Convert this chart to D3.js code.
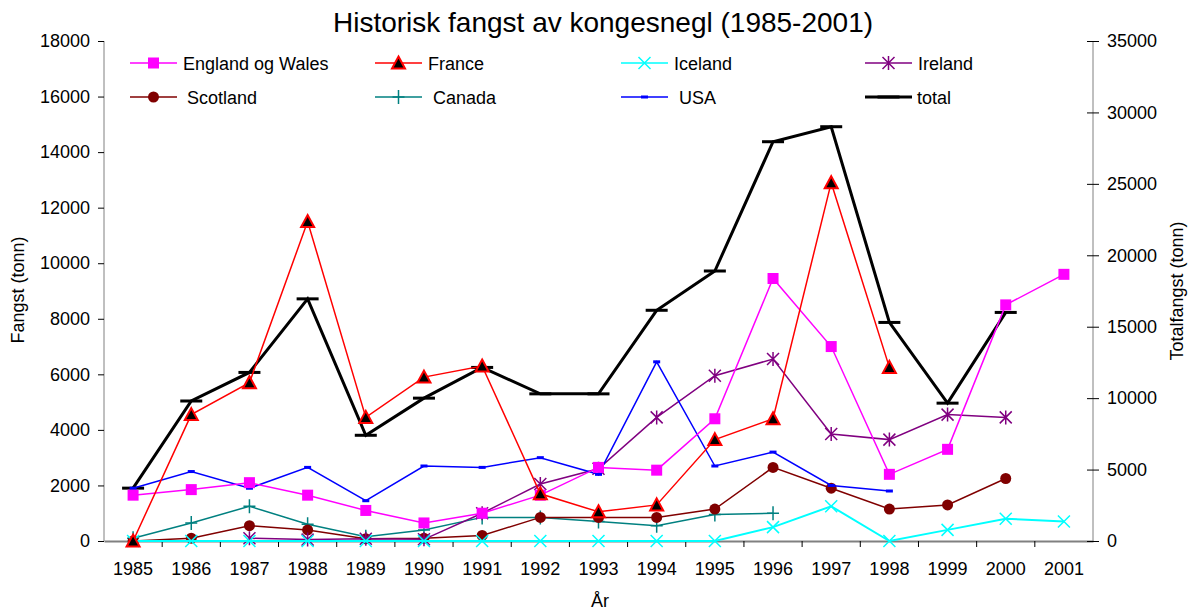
<!DOCTYPE html>
<html><head><meta charset="utf-8">
<script src="https://cdn.jsdelivr.net/npm/d3@7"></script>
<style>body{margin:0;background:#fff}svg{font-family:"Liberation Sans",Arial,sans-serif}</style>
</head><body><svg id="c" width="1194" height="612"></svg>
<script>
const years = ["1985","1986","1987","1988","1989","1990","1991","1992","1993","1994","1995","1996","1997","1998","1999","2000","2001"];
const englandWales = [1650,1850,2100,1650,1100,650,1000,1650,2650,2550,4400,9450,7000,2400,3300,8500,9600];
const france = [0,4550,5700,11500,4450,5900,6300,1700,1050,1300,3650,4400,12900,6250,null,null,null];
const iceland = [0,0,0,0,0,0,0,0,0,0,0,500,1250,0,400,800,700];
const ireland = [null,null,100,50,80,60,1000,2050,2600,4450,5950,6550,3850,3650,4550,4450,null];
const scotland = [0,100,550,400,80,100,200,850,850,850,1150,2650,1900,1150,1300,2250,null];
const canada = [100,650,1250,600,150,400,850,850,700,550,950,1000,null,null,null,null,null];
const usa = [1900,2500,1900,2650,1450,2700,2650,3000,2400,6450,2700,3200,2000,1800,null,null,null];
const total = [3700,9800,11800,16950,7400,10000,12150,10300,10300,16150,18900,27950,29000,15300,9650,16000,null];
const leftTicks = [0,2000,4000,6000,8000,10000,12000,14000,16000,18000];
const rightTicks = [0,5000,10000,15000,20000,25000,30000,35000];

const FS = 18;
const svg = d3.select("#c");
const L=104, R=1093, T=41, B=541;
const x = d3.scaleBand().domain(years).range([L,R]).padding(0);
const xc = d => x(d)+x.bandwidth()/2;
const yL = d3.scaleLinear().domain([0,18000]).range([B,T]);
const yR = d3.scaleLinear().domain([0,35000]).range([B,T]);

// axes
const gx = svg.append("g").attr("transform",`translate(0,${B})`)
  .call(d3.axisBottom(x).tickSize(0).tickPadding(21));
gx.select(".domain").attr("stroke","#808080").attr("stroke-width",2);
gx.selectAll("text").attr("font-size",FS).attr("fill","#000").attr("font-family","Liberation Sans, Arial");
gx.selectAll(".bt").data(years.slice(1)).enter().append("line")
  .attr("x1",d=>x(d)).attr("x2",d=>x(d)).attr("y1",0).attr("y2",6).attr("stroke","#000");

const gl = svg.append("g").attr("transform",`translate(${L},0)`)
  .call(d3.axisLeft(yL).tickValues(leftTicks).tickSize(6).tickPadding(8).tickFormat(d3.format("d")));
gl.select(".domain").attr("stroke","#808080").attr("d",`M0,${T}V${B}`);
gl.selectAll("line").attr("stroke","#000");
gl.selectAll("text").attr("font-size",FS).attr("fill","#000").attr("font-family","Liberation Sans, Arial");

const gr = svg.append("g").attr("transform",`translate(${R},0)`)
  .call(d3.axisRight(yR).tickValues(rightTicks).tickSize(6).tickPadding(8).tickFormat(d3.format("d")));
gr.select(".domain").attr("stroke","#808080").attr("d",`M0,${T}V${B}`);
gr.selectAll(".tick line").attr("x1",-6).attr("stroke","#000");
gr.selectAll("text").attr("font-size",FS).attr("fill","#000").attr("font-family","Liberation Sans, Arial");

// titles
svg.append("text").attr("x",603).attr("y",32).attr("text-anchor","middle").attr("font-size",28).text("Historisk fangst av kongesnegl (1985-2001)");
svg.append("text").attr("transform","translate(19,290) rotate(-90)").attr("text-anchor","middle").attr("dominant-baseline","middle").attr("font-size",FS).text("Fangst (tonn)");
svg.append("text").attr("transform","translate(1178,291) rotate(-90)").attr("text-anchor","middle").attr("dominant-baseline","middle").attr("font-size",FS).text("Totalfangst (tonn)");
svg.append("text").attr("x",600).attr("y",607).attr("text-anchor","middle").attr("font-size",FS).text("År");

function marker(g, type, color){
  switch(type){
    case "square": g.append("rect").attr("x",-5.5).attr("y",-5.5).attr("width",11).attr("height",11).attr("fill",color); break;
    case "triangle": g.append("path").attr("d","M0,-6.5L6.5,5.5L-6.5,5.5Z").attr("fill","#000").attr("stroke","#ff0000").attr("stroke-width",2); break;
    case "x": g.append("path").attr("d","M-6,-6L6,6M-6,6L6,-6").attr("stroke",color).attr("stroke-width",1.5); break;
    case "star": g.append("path").attr("d","M-6,-6L6,6M-6,6L6,-6M0,-7V7").attr("stroke",color).attr("stroke-width",1.5); break;
    case "circle": g.append("circle").attr("r",5.5).attr("fill",color); break;
    case "plus": g.append("path").attr("d","M-6,0H6M0,-7V7").attr("stroke",color).attr("stroke-width",1.5); break;
    case "dash": g.append("rect").attr("x",-3.5).attr("y",-1.5).attr("width",7).attr("height",3).attr("fill",color); break;
    case "bigdash": g.append("rect").attr("x",-11).attr("y",-1.5).attr("width",22).attr("height",3).attr("fill",color); break;
  }
}

const series = [
  {name:"England og Wales", data:englandWales, color:"#ff00ff", m:"square", y:yL, w:1.5},
  {name:"France", data:france, color:"#ff0000", m:"triangle", y:yL, w:1.5},
  {name:"Iceland", data:iceland, color:"#00ffff", m:"x", y:yL, w:2},
  {name:"Ireland", data:ireland, color:"#800080", m:"star", y:yL, w:1.5},
  {name:"Scotland", data:scotland, color:"#800000", m:"circle", y:yL, w:1.5},
  {name:"Canada", data:canada, color:"#008080", m:"plus", y:yL, w:1.5},
  {name:"USA", data:usa, color:"#0000ff", m:"dash", y:yL, w:1.5},
  {name:"total", data:total, color:"#000000", m:"bigdash", y:yR, w:3}
];
const drawOrder = [7,5,4,3,6,0,2,1];
drawOrder.forEach(i=>{
  const s = series[i];
  const pts = years.map((yr,j)=>({yr, v:s.data[j]}));
  const line = d3.line().defined(d=>d.v!==null).x(d=>xc(d.yr)).y(d=>s.y(d.v));
  svg.append("path").datum(pts).attr("d",line).attr("fill","none").attr("stroke",s.color).attr("stroke-width",s.w);
  pts.filter(d=>d.v!==null).forEach(d=>{
    const g = svg.append("g").attr("transform",`translate(${xc(d.yr)},${s.y(d.v)})`);
    marker(g, s.m, s.color);
  });
});

const legPos = [[130,63,183],[375,63,428],[621,63,674],[865,63,918],[130,97,187],[375,97,433],[621,97,679],[865,97,917]];
series.forEach((s,i)=>{
  const [lx,ly,tx] = legPos[i];
  svg.append("line").attr("x1",lx).attr("x2",lx+47).attr("y1",ly).attr("y2",ly).attr("stroke",s.color).attr("stroke-width",s.w===3?3:1.5);
  const g = svg.append("g").attr("transform",`translate(${lx+23.5},${ly})`);
  marker(g, s.m, s.color);
  svg.append("text").attr("x",tx).attr("y",ly+6.5).attr("font-size",FS).text(s.name);
});
</script></body></html>
